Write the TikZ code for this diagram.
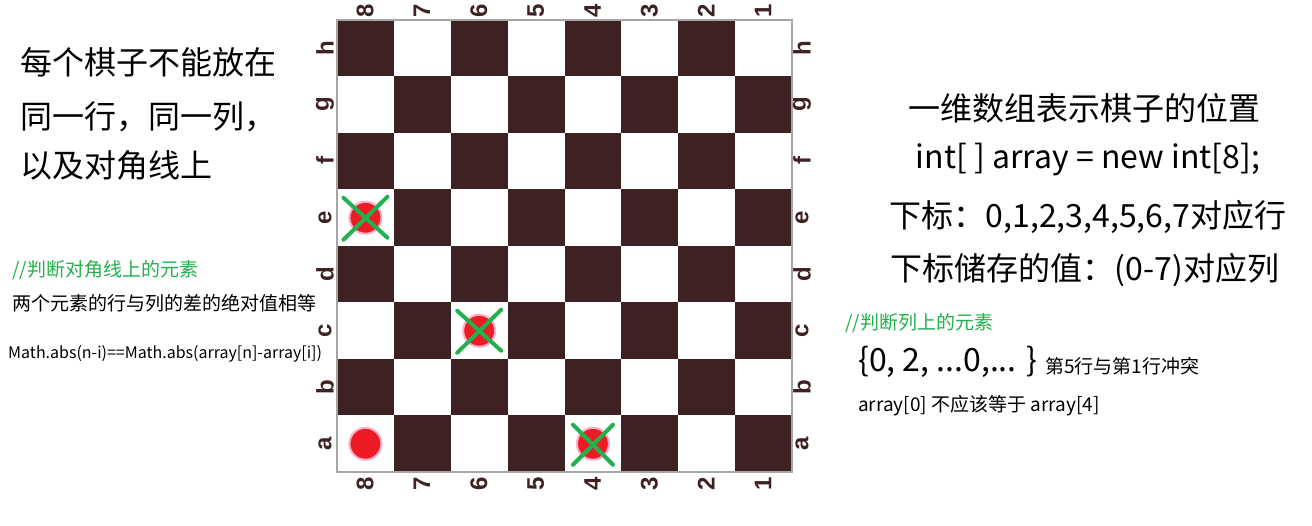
\documentclass[tikz,border=0pt]{standalone}
\usepackage{fontspec}
\usepackage{tikz}
\usetikzlibrary{calc}
\newfontfamily\cjk{Noto Sans CJK SC}
\newfontfamily\labfont{Liberation Sans}
\definecolor{boardbrown}{RGB}{62,33,34}
\definecolor{paintgreen}{RGB}{34,177,76}
\definecolor{paintred}{RGB}{237,28,36}
\definecolor{paintpink}{RGB}{255,174,201}

\begin{document}
\begin{tikzpicture}[x=1pt,y=-1pt,
  square/.style={minimum width=56.875pt, minimum height=56.5pt, inner sep=0pt, outer sep=0pt},
  bigtext/.style={font=\cjk\fontsize{32}{32}\selectfont, inner sep=0pt},
  smalltext/.style={font=\cjk\fontsize{19}{19}\selectfont, inner sep=0pt},
  note/.style={smalltext, text=paintgreen},
  codetext/.style={font=\cjk\fontsize{16}{16}\selectfont, inner sep=0pt},
  settext/.style={font=\cjk\fontsize{32}{32}\selectfont, inner sep=0pt},
  coord/.style={font=\labfont\bfseries\fontsize{24}{24}\selectfont, rotate=90, text=boardbrown, inner sep=0pt},
  queen/.style={circle, fill=paintred, draw=paintpink, line width=2pt, minimum size=32pt, inner sep=0pt},
  cross/.style={draw=paintgreen, line width=4pt, line cap=round}]
  \useasboundingbox[fill=white] (0,0) rectangle (1312,526);

  \foreach \rl [count=\r from 0] in {h,g,f,e,d,c,b,a} {
    \foreach \cl [count=\c from 0] in {8,7,6,5,4,3,2,1} {
      \pgfmathtruncatemacro\sqpar{mod(\r+\c,2)}
      \ifodd\sqpar \def\sqcol{white}\else \def\sqcol{boardbrown}\fi
      \node[square, fill=\sqcol] (\rl\cl) at ({337+56.875*(\c+0.5)}, {20+56.5*(\r+0.5)}) {};
    }
  }
  \draw[gray!70, line width=1.2pt] (h8.north west) rectangle (a1.south east);

  \foreach \cl [count=\c from 0] in {8,7,6,5,4,3,2,1} {
    \node[coord] (top\cl) at ({365+56.875*\c}, 11) {\cl};
    \node[coord] (bot\cl) at ({365+56.875*\c}, 484) {\cl};
  }
  \foreach \rl [count=\r from 0] in {h,g,f,e,d,c,b,a} {
    \node[coord] (left\rl) at (325, {48+56.5*\r}) {\rl};
    \node[coord] (right\rl) at (802, {48+56.5*\r}) {\rl};
  }

  \node[queen] (qe8) at (e8) {};
  \node[queen] (qc6) at (c6) {};
  \node[queen] (qa8) at (a8) {};
  \node[queen] (qa4) at (a4) {};

  \draw[cross] ($(qe8)+(-22,-20)$) -- ($(qe8)+(22,20)$);
  \draw[cross] ($(qe8)+(22,-21)$) -- ($(qe8)+(-22,22)$);
  \draw[cross] ($(qc6)+(-22,-20)$) -- ($(qc6)+(22,20)$);
  \draw[cross] ($(qc6)+(22,-21)$) -- ($(qc6)+(-22,22)$);
  \draw[cross] ($(qa4)+(-20,-19)$) -- ($(qa4)+(20,21)$);
  \draw[cross] ($(qa4)+(20,-19)$) -- ($(qa4)+(-20,21)$);

  \node[bigtext, anchor=west] (rule1) at (20,62)  {每个棋子不能放在};
  \node[bigtext, anchor=west] (rule2) at (20,117) {同一行，同一列，};
  \node[bigtext, anchor=west] (rule3) at (20,165) {以及对角线上};

  \node[note, anchor=west]      (diagnote) at (12,270) {//判断对角线上的元素};
  \node[smalltext, anchor=west] (diagrule) at (12,303) {两个元素的行与列的差的绝对值相等};
  \node[codetext, anchor=west]  (diagcode) at (8,354)  {Math.abs(n-i)==Math.abs(array[n]-array[i])};

  \node[bigtext] (title) at (1084,108) {一维数组表示棋子的位置};
  \node[bigtext] (decl)  at (1088,160) {int[ ] array = new int[8];};
  \node[bigtext] (index) at (1088,217) {下标：0,1,2,3,4,5,6,7对应行};
  \node[bigtext] (value) at (1085,270) {下标储存的值：(0-7)对应列};

  \node[note, anchor=west]      (colnote)  at (845,323)  {//判断列上的元素};
  \node[settext, anchor=west]   (colset)   at (858,362)  {\{0, 2, ...0,... \}};
  \node[smalltext, anchor=west] (conflict) at (1045,366) {第5行与第1行冲突};
  \node[smalltext, anchor=west] (colrule)  at (858,406)  {array[0] 不应该等于 array[4]};
\end{tikzpicture}
\end{document}
